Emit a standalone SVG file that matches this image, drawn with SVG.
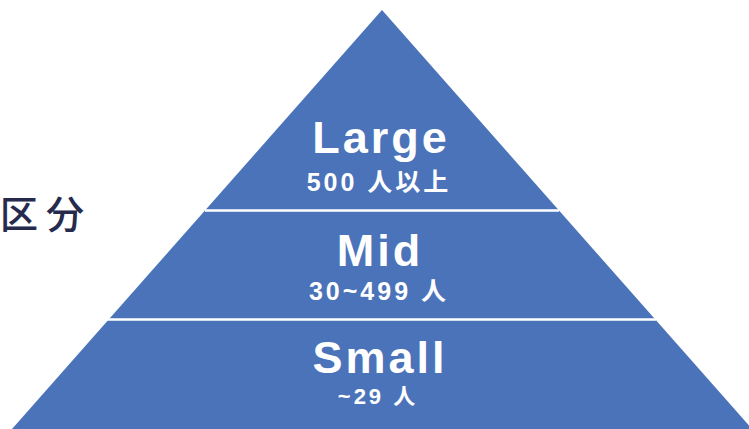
<svg xmlns="http://www.w3.org/2000/svg" width="749" height="429" viewBox="0 0 749 429">
<style>
.big{font-family:"Liberation Sans","Noto Sans CJK JP",sans-serif;font-weight:bold;font-size:45px;fill:#fff;text-anchor:middle;letter-spacing:3px}
.sub{font-family:"Liberation Sans","Noto Sans CJK JP",sans-serif;font-weight:bold;font-size:25px;fill:#fff;text-anchor:middle;letter-spacing:3px}
.div{stroke:#fff;stroke-width:2.5}
</style>
<rect width="749" height="429" fill="#fff"/>
<g id="pyramid">
<polygon points="382,10 12,429 752,429" fill="#4B73B9"/>
</g>
<g id="connectors">
<line class="div" x1="205" y1="210.5" x2="559" y2="210.5"/>
<line class="div" x1="107" y1="319.5" x2="656" y2="319.5"/>
</g>
<g id="large">
<text class="big" x="381" y="153">Large</text>
<text class="sub" x="379" y="191">500 人以上</text>
</g>
<g id="mid">
<text class="big" x="380" y="266">Mid</text>
<text class="sub" x="379" y="300">30~499 人</text>
</g>
<g id="small">
<text class="big" x="380" y="373">Small</text>
<text class="sub" x="378" y="404" style="font-size:22px">~29 人</text>
</g>
<g id="label">
<text x="0" y="228" style="font-family:'Noto Sans CJK JP',sans-serif;font-size:38px;font-weight:500;fill:#262B4E;letter-spacing:8px">区分</text>
</g>
</svg>
